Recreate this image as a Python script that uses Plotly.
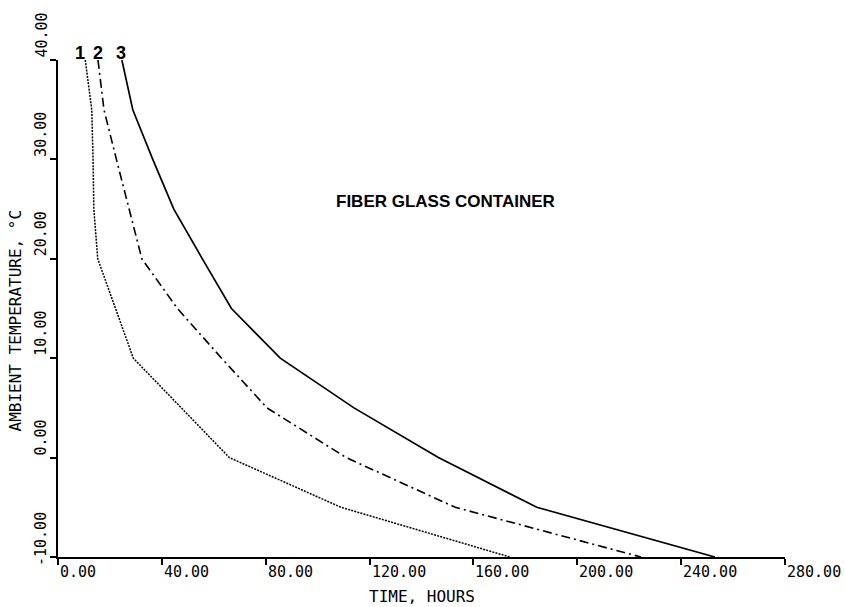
import plotly.graph_objects as go

# Ambient temperature levels (°C) shared by all three curves
temps = [40, 35, 30, 25, 20, 15, 10, 5, 0, -5, -10]

# Time (hours) for each curve
curve1_hours = [10.5, 13.0, 13.5, 13.8, 15.3, 22.0, 29.0, 47.5, 66.0, 109.0, 174.0]
curve2_hours = [15.4, 17.7, 22.5, 27.3, 32.3, 46.0, 63.0, 80.5, 111.0, 153.0, 224.5]
curve3_hours = [24.6, 28.8, 36.5, 44.6, 55.6, 66.8, 85.6, 114.0, 146.5, 184.4, 253.0]

curve_names = ["1", "2", "3"]
curve_label_x = [8.6, 15.5, 24.4]

x_ticks = [0, 40, 80, 120, 160, 200, 240, 280]
y_ticks = [-10, 0, 10, 20, 30, 40]

x_title = "TIME, HOURS"
y_title = "AMBIENT TEMPERATURE, °C"
chart_label = "FIBER GLASS CONTAINER"

MONO = "DejaVu Sans Mono"
SANS = "Liberation Sans, Arial"

fig = go.Figure()
styles = [
    dict(color="black", width=1.5, dash="2px,1.2px"),
    dict(color="black", width=1.6, dash="9px,4px,2px,4px"),
    dict(color="black", width=1.7, dash="solid"),
]
for name, xs, st in zip(curve_names, [curve1_hours, curve2_hours, curve3_hours], styles):
    fig.add_trace(go.Scatter(x=xs, y=temps, mode="lines", name=name, line=st,
                             showlegend=False, hoverinfo="skip"))

annotations = []
for v in x_ticks:
    annotations.append(dict(x=v, xref="x", y=0, yref="paper", text=f"{v:.2f}",
                            xanchor="left", yanchor="top", yshift=-4, showarrow=False,
                            font=dict(family=MONO, size=15, color="black")))
for v in y_ticks:
    annotations.append(dict(x=0, xref="paper", y=v, yref="y", text=f"{v:.2f}",
                            xanchor="right", yanchor="bottom", xshift=-6,
                            yshift=(-11 if v < 0 else 0), textangle=-90, showarrow=False,
                            font=dict(family=MONO, size=15, color="black")))
for name, lx in zip(curve_names, curve_label_x):
    annotations.append(dict(x=lx, xref="x", y=max(temps), yref="y", text=f"<b>{name}</b>",
                            xanchor="center", yanchor="bottom", yshift=-5, showarrow=False,
                            font=dict(family=SANS, size=18, color="black")))
annotations.append(dict(x=0.5, xref="paper", y=0, yref="paper", text=x_title,
                        xanchor="center", yanchor="top", yshift=-28, showarrow=False,
                        font=dict(family=MONO, size=16, color="black")))
annotations.append(dict(x=0, xref="paper", y=0.475, yref="paper", text=y_title,
                        xanchor="right", yanchor="middle", xshift=-31, textangle=-90,
                        showarrow=False,
                        font=dict(family=MONO, size=16, color="black")))
annotations.append(dict(x=0.38, xref="paper", y=0.715, yref="paper", text=f"<b>{chart_label}</b>",
                        xanchor="left", yanchor="middle", showarrow=False,
                        font=dict(family=SANS, size=17, color="black")))

fig.update_layout(
    width=845, height=607,
    margin=dict(l=58, r=60, t=60, b=50),
    paper_bgcolor="white", plot_bgcolor="white",
    annotations=annotations,
    showlegend=False,
)
fig.update_xaxes(range=[0, 280], tickvals=x_ticks, showticklabels=False,
                 ticks="outside", ticklen=6, tickwidth=1.5, tickcolor="black",
                 showline=True, linecolor="black", linewidth=2, showgrid=False, zeroline=False)
fig.update_yaxes(range=[-10, 40], tickvals=y_ticks, showticklabels=False,
                 ticks="outside", ticklen=6, tickwidth=1.5, tickcolor="black",
                 showline=True, linecolor="black", linewidth=2, showgrid=False, zeroline=False)

fig.write_html("out.html")
